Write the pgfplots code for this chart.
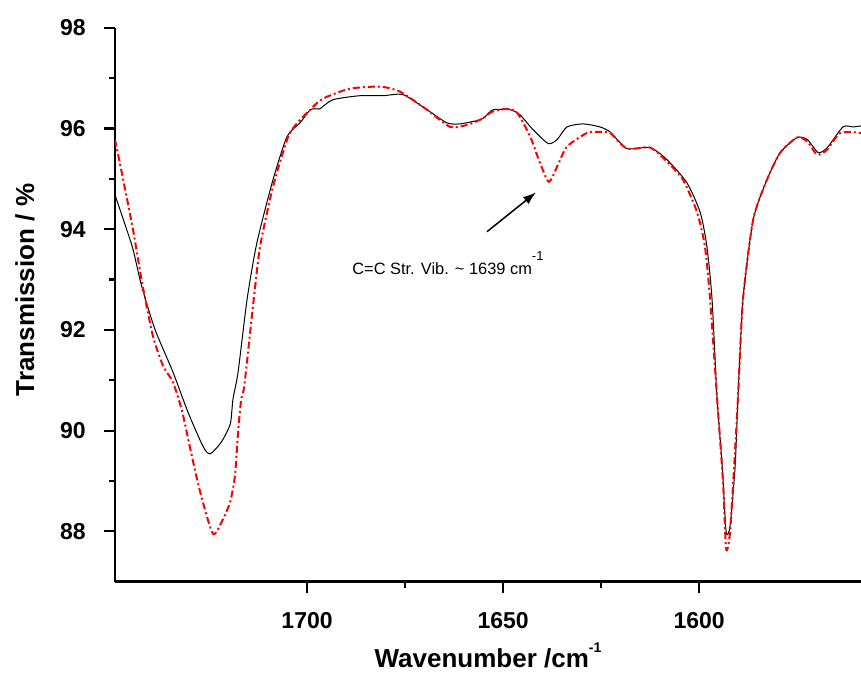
\documentclass[border=0pt]{standalone}
\usepackage{pgfplots}
\pgfplotsset{compat=1.18}
\usetikzlibrary{arrows.meta}
\usepackage{fontspec}
\setmainfont{Liberation Sans}
\begin{document}
\begin{tikzpicture}
\begin{axis}[
  name=ax,
  scale only axis=true,
  width=746pt, height=554pt,
  x dir=reverse,
  xmin=1558.7, xmax=1749,
  ymin=87, ymax=98,
  axis x line=bottom, axis y line=left,
  axis line style={-, line width=2.5pt},
  xtick={1600,1650,1700}, ytick={88,90,92,94,96,98},
  minor x tick num=1, minor y tick num=1,
  tick align=outside,
  major tick length=11pt, minor tick length=6pt,
  every tick/.style={black, line width=2.2pt},
  /pgf/number format/assume math mode=true,
  /pgf/number format/set thousands separator={},
  every tick label/.append style={inner sep=0pt, font=\fontsize{23}{23}\selectfont\bfseries},
  yticklabel style={anchor=east, xshift=-18pt},
  xticklabel style={anchor=north, yshift=-20pt},
  xlabel={Wavenumber /cm\raisebox{0.55em}{\fontsize{14}{14}\selectfont -1}},
  ylabel={Transmission / \%},
  label style={font=\fontsize{26}{26}\selectfont\bfseries},
  xlabel style={at={(axis description cs:0.5,-0.154)}, anchor=base, inner sep=0pt},
  ylabel style={at={(axis description cs:-0.1206,0.5265)}, anchor=center, inner sep=0pt},
  clip=true,
]
\addplot[black, line width=1pt, smooth, tension=0.4] coordinates {
(1749.0,94.68) (1746.0,93.99) (1744.4,93.60) (1742.2,92.87) (1738.8,92.01)
(1734.2,91.16) (1730.4,90.37) (1726.5,89.68) (1724.7,89.54) (1721.9,89.77)
(1719.6,90.13) (1718.9,90.63) (1717.6,91.16) (1715.3,92.61) (1712.8,93.73)
(1708.7,94.98) (1705.1,95.84) (1701.8,96.11) (1699.2,96.37) (1697.2,96.39)
(1696.7,96.39) (1693.4,96.57) (1686.5,96.65) (1680.6,96.65) (1675.5,96.67)
(1669.4,96.37) (1664.3,96.11) (1661.0,96.09) (1655.9,96.17) (1654.6,96.23)
(1652.6,96.37) (1648.2,96.37) (1645.7,96.27) (1642.3,95.97) (1638.5,95.70)
(1636.2,95.78) (1633.7,96.03) (1629.6,96.09) (1625.3,96.03) (1622.7,95.93)
(1618.4,95.60) (1612.5,95.62) (1608.2,95.38) (1603.1,94.92) (1599.7,94.33)
(1598.0,93.65) (1596.7,92.61) (1595.4,90.63) (1594.1,89.30) (1593.1,87.99)
(1592.1,88.11) (1590.8,89.30) (1590.1,90.63) (1588.8,92.61) (1586.2,94.19)
(1582.7,94.98) (1579.3,95.52) (1575.0,95.82) (1572.4,95.78) (1569.6,95.52)
(1567.3,95.62) (1563.3,96.03) (1560.7,96.03) (1558.7,96.05)
};
\addplot[red, line width=2pt, dash pattern=on 7pt off 3pt on 2pt off 3pt, smooth, tension=0.4] coordinates {
(1749.0,95.78) (1746.9,94.98) (1744.4,93.99) (1742.1,92.94) (1739.3,91.87)
(1736.7,91.28) (1734.2,90.96) (1731.9,90.39) (1729.8,89.64) (1727.3,88.79)
(1724.0,87.95) (1721.4,88.25) (1719.6,88.59) (1718.4,89.10) (1717.6,89.97)
(1716.8,90.63) (1716.0,90.90) (1713.8,92.47) (1712.0,93.65) (1708.7,94.84)
(1704.8,95.84) (1701.8,96.17) (1699.2,96.37) (1697.4,96.51) (1694.9,96.63)
(1689.0,96.79) (1681.4,96.83) (1676.3,96.73) (1669.4,96.37) (1663.5,96.03)
(1659.2,96.07) (1655.4,96.19) (1652.8,96.33) (1649.0,96.39) (1646.4,96.31)
(1643.1,95.84) (1640.6,95.32) (1638.3,94.94) (1636.0,95.28) (1633.7,95.64)
(1628.6,95.91) (1625.3,95.93) (1622.7,95.91) (1618.4,95.60) (1612.5,95.62)
(1608.2,95.34) (1604.1,94.98) (1600.5,94.33) (1598.5,93.65) (1597.2,92.61)
(1595.4,90.63) (1593.9,88.98) (1593.1,87.65) (1592.1,87.99) (1590.8,89.64)
(1590.1,90.63) (1588.8,92.61) (1586.2,94.19) (1582.7,94.98) (1579.3,95.52)
(1575.0,95.82) (1572.4,95.74) (1569.9,95.48) (1567.3,95.58) (1564.0,95.91)
(1558.7,95.91)
};
\draw[-{Latex[length=13pt,width=9pt]}, line width=1.5pt] (axis cs:1654.1,93.95) -- (axis cs:1641.6,94.73);
\node[anchor=base west, inner sep=0pt, font=\fontsize{16.4}{16.4}\selectfont]
  at (axis cs:1688.5,93.10) {C=C Str. Vib. \textasciitilde{} 1639 cm\raisebox{0.85em}{\fontsize{13}{13}\selectfont -1}};
\end{axis}
\pgfresetboundingbox
\path[use as bounding box] ([xshift=-115pt,yshift=-93.3pt]ax.south west) rectangle ([yshift=27.7pt]ax.north east);
\end{tikzpicture}
\end{document}
